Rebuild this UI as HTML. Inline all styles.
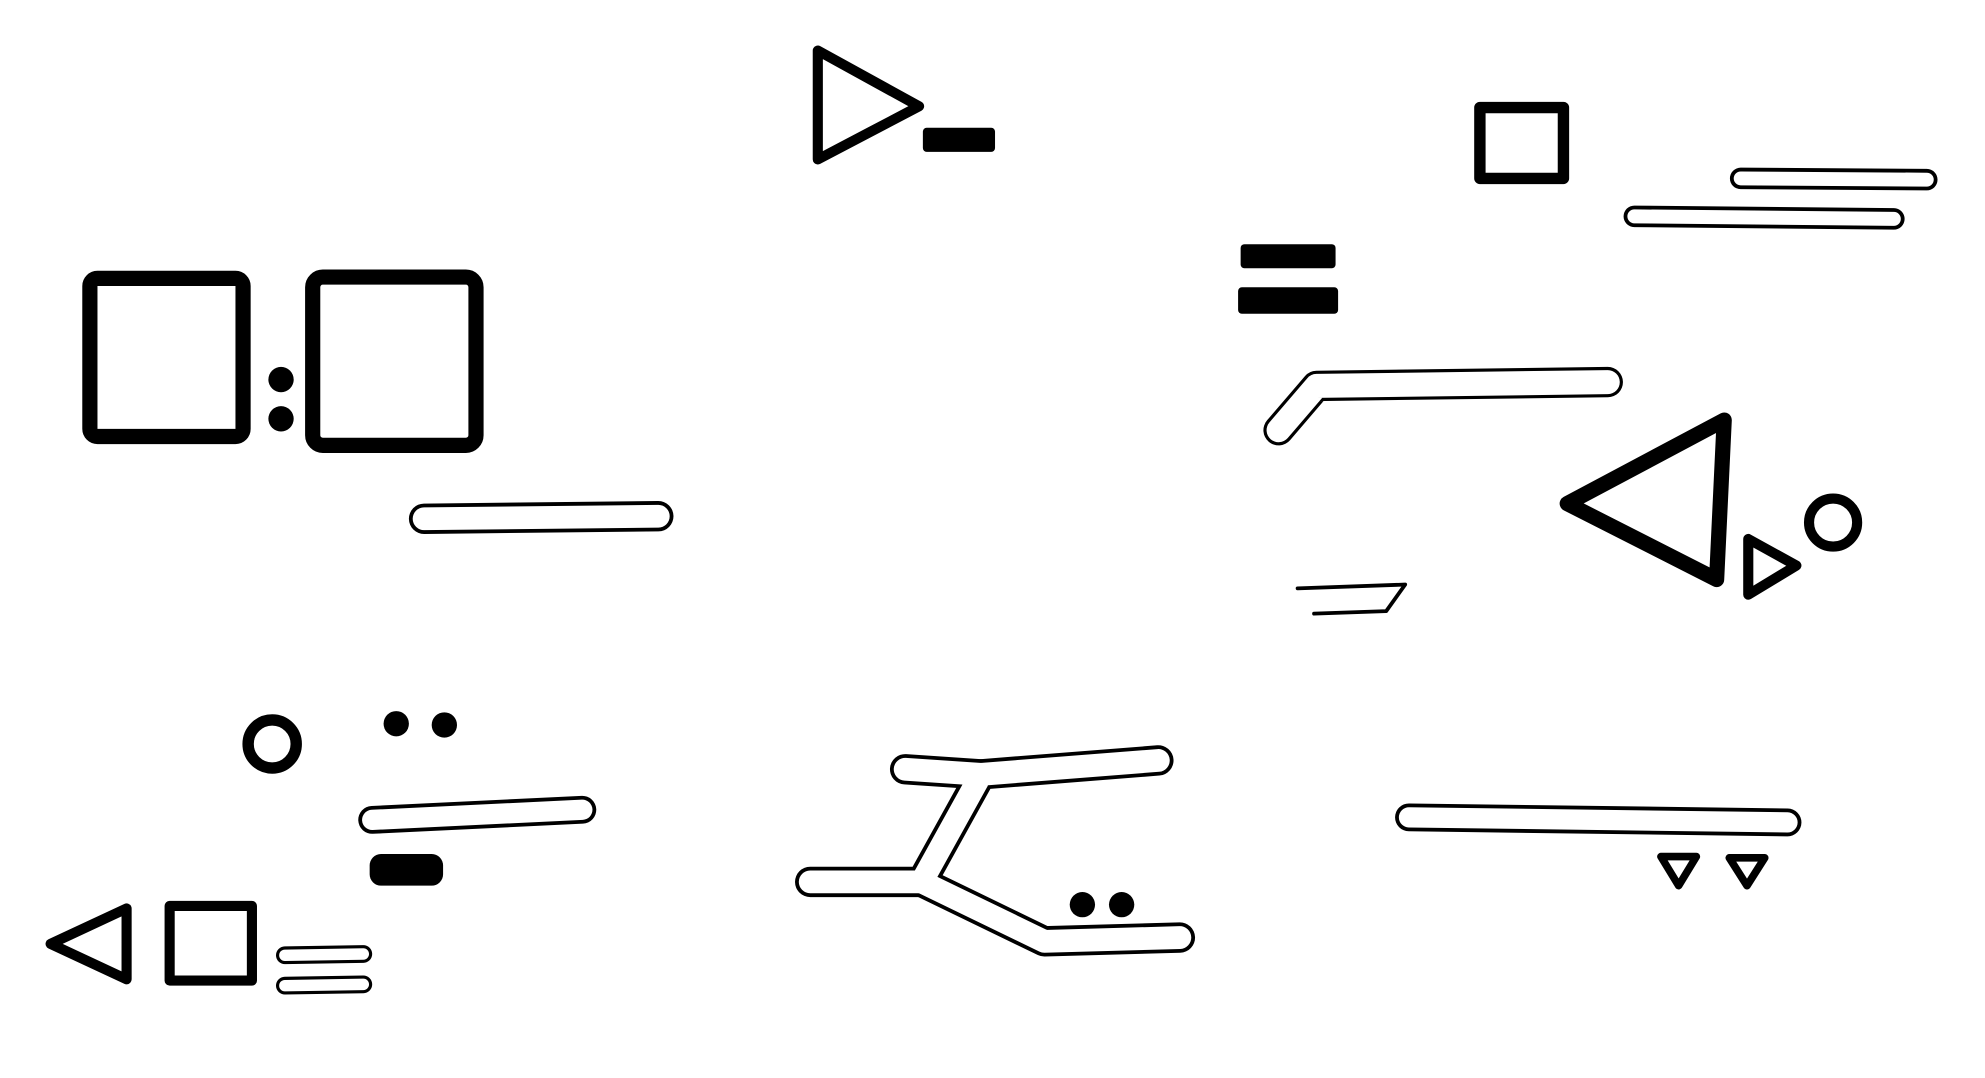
<!DOCTYPE html>
<html><head><meta charset="utf-8"><style>
html,body{margin:0;padding:0;background:#fff;width:1985px;height:1078px;overflow:hidden}
svg{display:block}
</style></head><body>
<svg width="1985" height="1078" viewBox="0 0 1568 852" preserveAspectRatio="none">
<g fill="none" stroke="#000" stroke-linejoin="round" stroke-linecap="round">
  <polygon points="646,40 646,126 726,84" stroke-width="8"/>
  <rect x="729" y="101" width="57" height="19" rx="3" fill="#000" stroke="none"/>
  <rect x="1169" y="85" width="66" height="56" stroke-width="9"/>
  <g><line x1="1375" y1="141" x2="1522" y2="142" stroke-width="17"/><line x1="1375" y1="141" x2="1522" y2="142" stroke="#fff" stroke-width="11"/></g>
  <g><line x1="1291" y1="171" x2="1496" y2="173" stroke-width="17"/><line x1="1291" y1="171" x2="1496" y2="173" stroke="#fff" stroke-width="11"/></g>
  <rect x="980" y="193" width="75" height="19" rx="3" fill="#000" stroke="none"/>
  <rect x="978" y="227" width="79" height="21" rx="3" fill="#000" stroke="none"/>
  <rect x="71" y="220" width="121" height="125" rx="6" stroke-width="12"/>
  <rect x="247" y="219" width="129" height="133" rx="8" stroke-width="12"/>
  <circle cx="222" cy="300" r="10" fill="#000" stroke="none"/>
  <circle cx="222" cy="331" r="10" fill="#000" stroke="none"/>
  <g><polyline points="335,410 520,408" stroke-width="24"/><polyline points="335,410 520,408" stroke="#fff" stroke-width="18"/></g>
  <g><polyline points="1010,340 1040,305 1270,302" stroke-width="24"/><polyline points="1010,340 1040,305 1270,302" stroke="#fff" stroke-width="19"/></g>
  <polygon points="1238,398 1362,332 1356,458" stroke-width="12"/>
  <polygon points="1381,426 1381,470 1419,447" stroke-width="8"/>
  <circle cx="1448" cy="413" r="19" stroke-width="8"/>
  <g><polyline points="1025,465 1110,462 1095,483 1038,485" stroke-width="3"/></g>
  <circle cx="215" cy="588" r="19" stroke-width="9"/>
  <circle cx="313" cy="572" r="10" fill="#000" stroke="none"/>
  <circle cx="351" cy="573" r="10" fill="#000" stroke="none"/>
  <g><line x1="294" y1="648" x2="460" y2="640" stroke-width="22"/><line x1="294" y1="648" x2="460" y2="640" stroke="#fff" stroke-width="16"/></g>
  <rect x="292" y="675" width="58" height="25" rx="9" fill="#000" stroke="none"/>
  <polygon points="40,746 100,718 100,774" stroke-width="8"/>
  <rect x="134" y="716" width="65" height="59" stroke-width="8"/>
  <g><line x1="225" y1="755" x2="287" y2="754" stroke-width="14"/><line x1="225" y1="755" x2="287" y2="754" stroke="#fff" stroke-width="9"/></g>
  <g><line x1="225" y1="779" x2="287" y2="778" stroke-width="14"/><line x1="225" y1="779" x2="287" y2="778" stroke="#fff" stroke-width="9"/></g>
  <g>
    <polyline points="640,697 728,697 775,612 915,601" stroke-width="24"/>
    <polyline points="728,697 825,744 932,741" stroke-width="24"/>
    <polyline points="715,608 775,612" stroke-width="24"/>
    <polyline points="640,697 728,697 775,612 915,601" stroke="#fff" stroke-width="18"/>
    <polyline points="728,697 825,744 932,741" stroke="#fff" stroke-width="18"/>
    <polyline points="715,608 775,612" stroke="#fff" stroke-width="18"/>
  </g>
  <circle cx="855" cy="715" r="10" fill="#000" stroke="none"/>
  <circle cx="886" cy="715" r="10" fill="#000" stroke="none"/>
  <g><line x1="1113" y1="646" x2="1412" y2="650" stroke-width="22"/><line x1="1113" y1="646" x2="1412" y2="650" stroke="#fff" stroke-width="16"/></g>
  <polygon points="1312,677 1340,677 1326,700" stroke-width="6"/>
  <polygon points="1366,678 1394,678 1380,700" stroke-width="6"/>
</g>
</svg>
</body></html>
